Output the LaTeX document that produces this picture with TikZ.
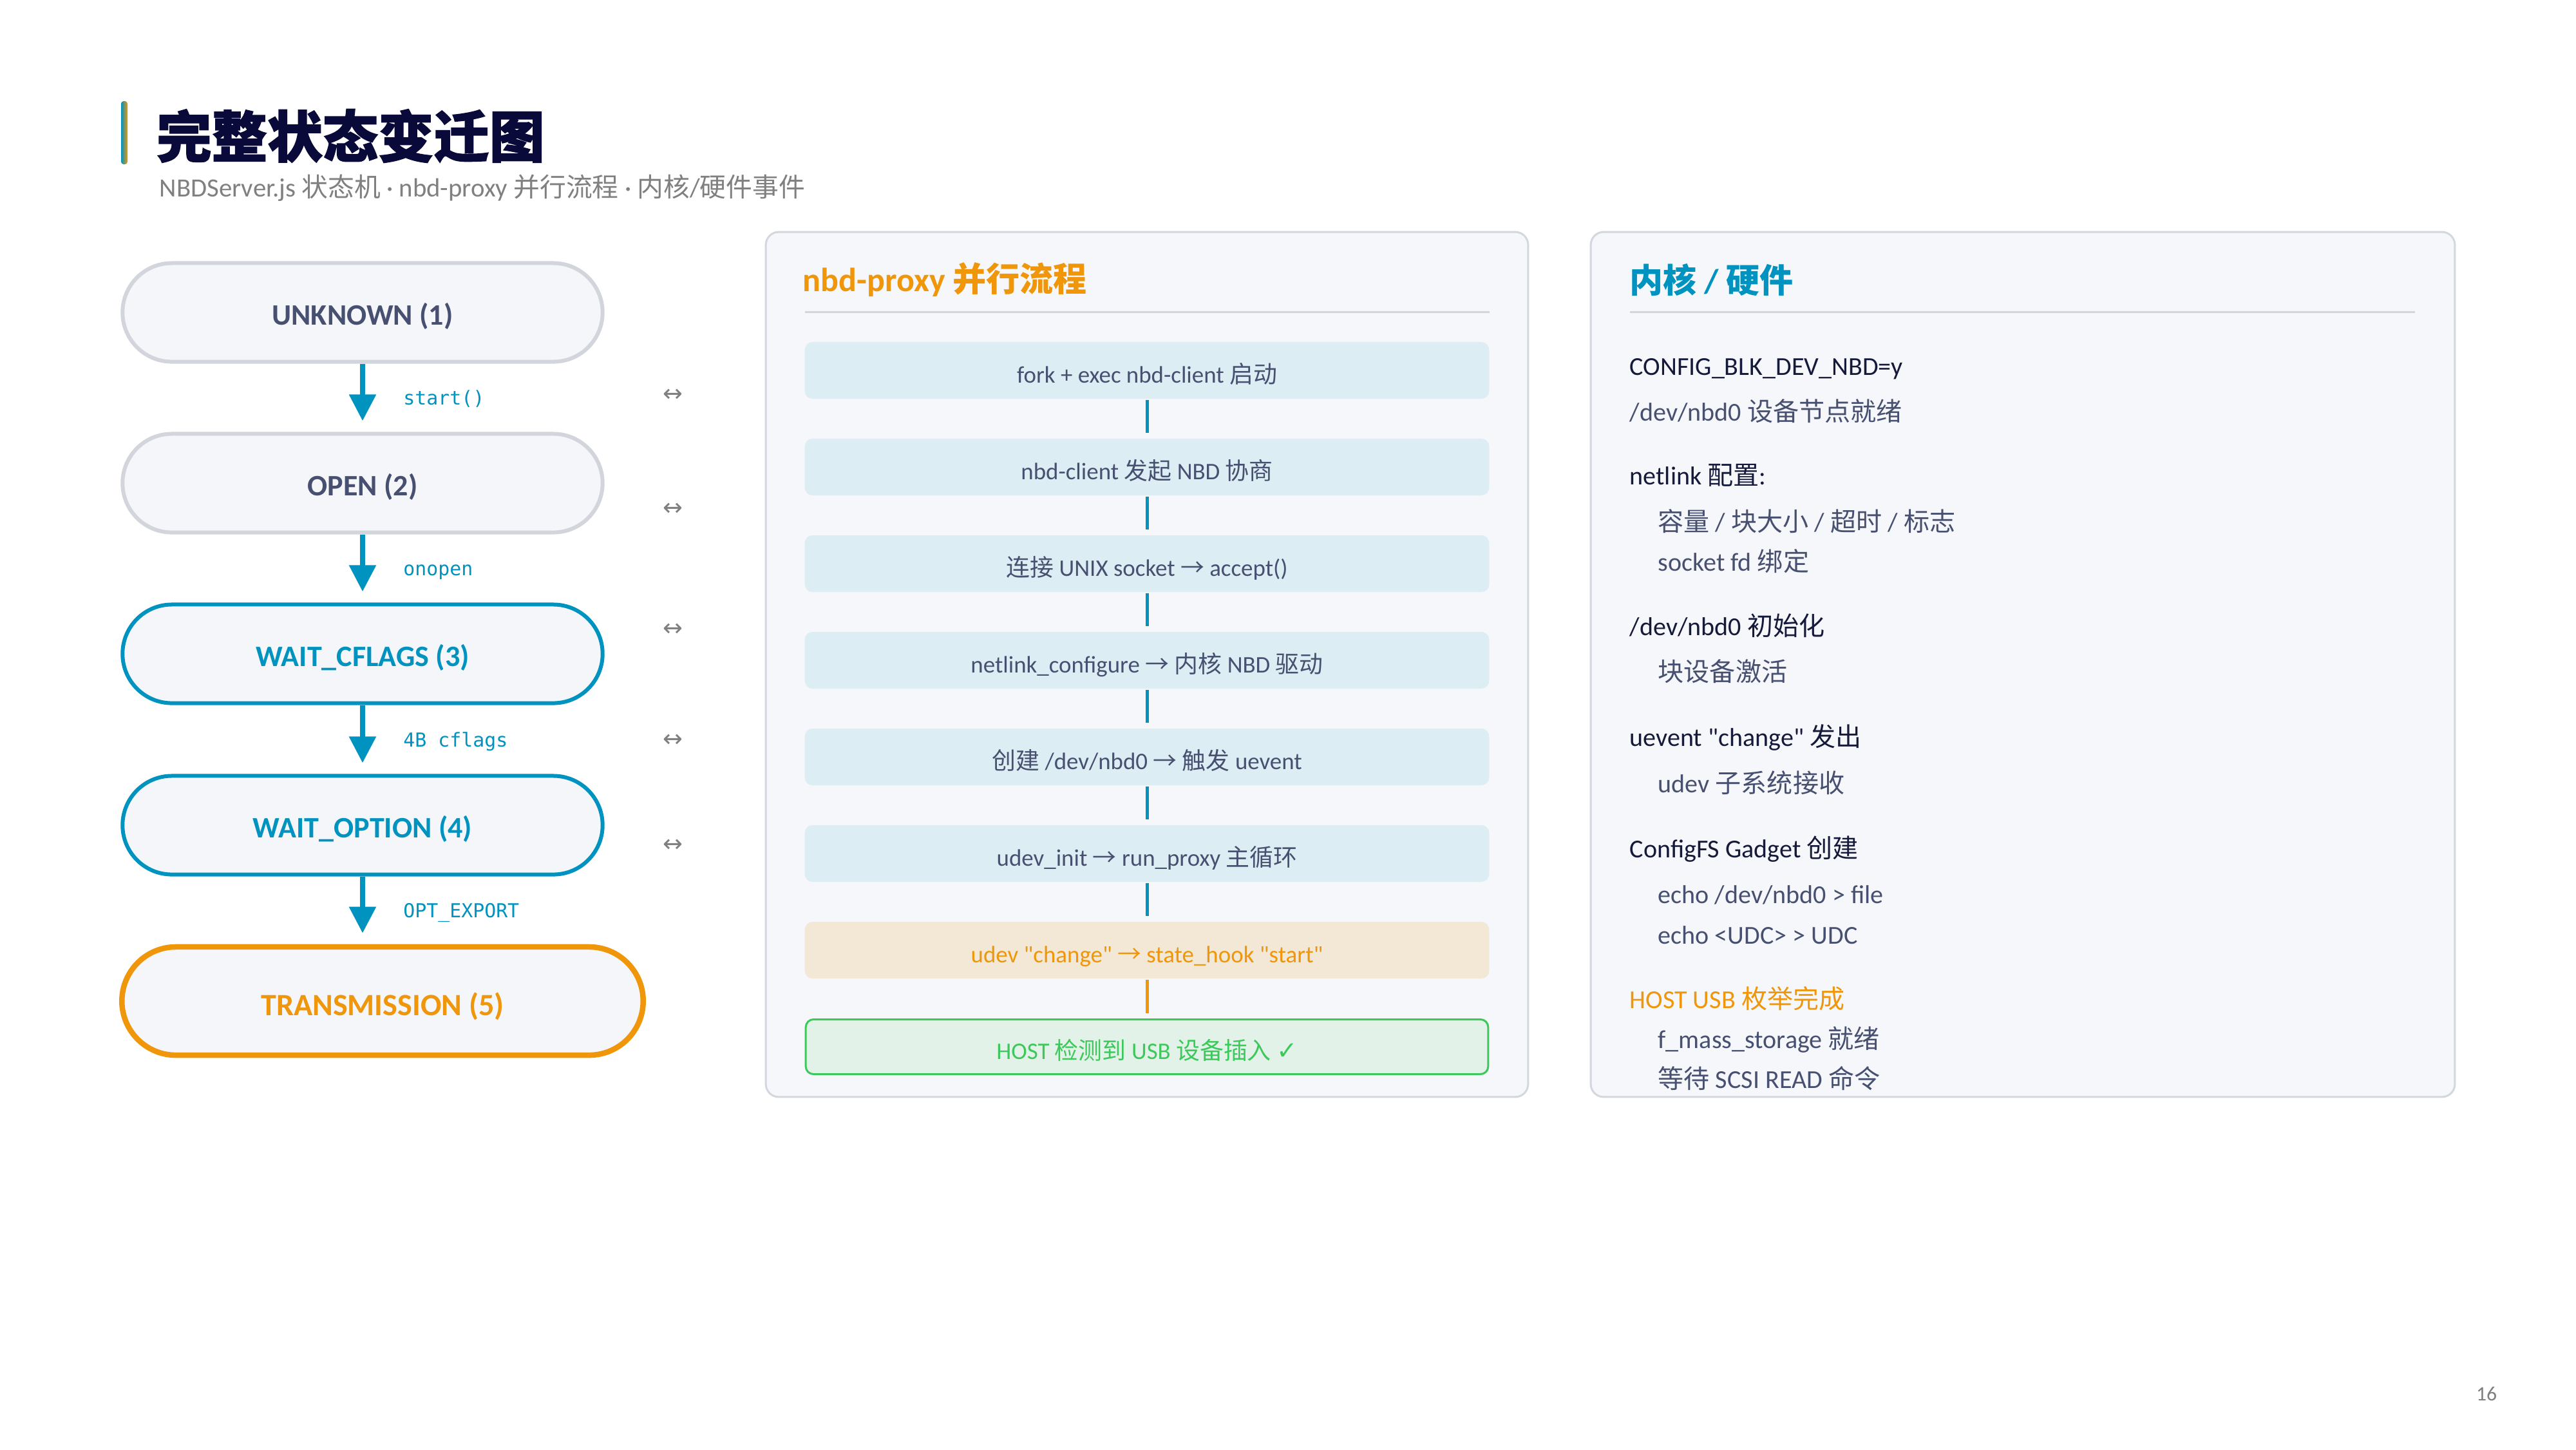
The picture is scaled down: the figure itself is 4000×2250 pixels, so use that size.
\documentclass[tikz,border=0pt]{standalone}
\usepackage{fontspec}
\setmainfont{Carlito}[Ligatures=TeXOff]
\newfontfamily\cjkreg{Noto Sans CJK SC}
\newfontfamily\cjkheavy{Noto Sans CJK SC}[BoldFeatures={FakeBold=1.6}]
\newfontfamily\monof{DejaVu Sans Mono}
\newfontfamily\symf{DejaVu Sans}
\usetikzlibrary{arrows.meta}
\newcommand{\zh}[1]{{\cjkreg #1}}
\newcommand{\ar}{\zh{→}}
\newcommand{\dq}{\char"22\relax}

\definecolor{cblue}{HTML}{0093C0}
\definecolor{corange}{HTML}{F0960A}
\definecolor{cslate}{HTML}{475070}
\definecolor{cdark}{HTML}{161A3A}
\definecolor{ctitle}{HTML}{0A0A3A}
\definecolor{cgreyt}{HTML}{808080}
\definecolor{cpill}{HTML}{F5F6FA}
\definecolor{cpillb}{HTML}{D2D5DC}
\definecolor{cpanel}{HTML}{F5F7FA}
\definecolor{cpanelb}{HTML}{D4D7DE}
\definecolor{cstep}{HTML}{DDEDF4}
\definecolor{cstepo}{HTML}{F3E8D6}
\definecolor{cstepg}{HTML}{E3F2E8}
\definecolor{cgreen}{HTML}{3CC85A}

\newcommand{\fpx}[1]{\fontsize{#1}{#1}\selectfont}

\begin{document}
\begin{tikzpicture}[x=0.01cm,y=-0.01cm,
  pill/.style={rounded corners=0.765cm, minimum width=7.45cm, minimum height=1.53cm,
    inner sep=0pt, line width=0.06cm, fill=cpill, font=\bfseries\fpx{13.1pt},
    text height=0.42cm, text depth=0.04cm},
  greypill/.style={pill, draw=cpillb, text=cslate},
  bluepill/.style={pill, draw=cblue, text=cblue},
  orangepill/.style={pill, draw=corange, text=corange, line width=0.085cm,
    minimum width=8.09cm, minimum height=1.68cm, rounded corners=0.84cm, font=\bfseries\fpx{13.7pt},
    text height=0.48cm, text depth=0.04cm},
  flow/.style={draw=cblue, line width=0.085cm, -{Triangle[length=0.41cm 0, width=0.40cm 0]}, shorten >=0.17cm},
  flowlbl/.style={midway, anchor=base west, xshift=0.59cm, yshift=-0.11cm, inner sep=0pt,
    text=cblue, font=\monof\fpx{8.5pt}},
  dbl/.style={text=cgreyt, font=\symf\fpx{10.5pt}, inner sep=0pt},
  panel/.style={draw=cpanelb, fill=cpanel, line width=0.03cm, rounded corners=0.2cm,
    minimum height=13.42cm, inner sep=0pt},
  ptitle/.style={anchor=west, inner sep=0pt, font=\bfseries\fpx{14.8pt}},
  sepline/.style={draw=cpillb, line width=0.03cm},
  stepbox/.style={fill=cstep, rounded corners=0.12cm, minimum width=10.62cm, minimum height=0.88cm,
    inner sep=0pt, text=cslate, font=\fpx{10.5pt}, text height=0.42cm, text depth=0.03cm},
  link/.style={draw=cblue, line width=0.05cm, shorten >=0.08cm, shorten <=0.01cm},
  item/.style={anchor=base west, inner sep=0pt, font=\fpx{11.4pt}},
  mainitem/.style={item, text=cdark},
  subitem/.style={item, text=cslate},
]
\useasboundingbox[fill=white] (0,0) rectangle (4000,2250);

% ---------- title ----------
\shade[left color=cblue, right color=corange, rounded corners=0.04cm] (188,157) rectangle (198,255);
\node[anchor=west, inner sep=0pt, text=ctitle, font=\bfseries\fpx{24.5pt}] (title) at (242,211) {{\cjkheavy 完整状态变迁图}};
\node[anchor=west, inner sep=0pt, text=cgreyt, font=\fpx{11.6pt}] (subtitle) at (247,292)
  {NBDServer.js \zh{状态机} · nbd-proxy \zh{并行流程} · \zh{内核}/\zh{硬件事件}};

% ---------- state machine ----------
\node[greypill] (s1) at (563,485) {UNKNOWN (1)};
\node[greypill] (s2) at (563,750) {OPEN (2)};
\node[bluepill] (s3) at (563,1015) {WAIT\_CFLAGS (3)};
\node[bluepill] (s4) at (563,1281) {WAIT\_OPTION (4)};
\node[orangepill] (s5) at (594,1554) {TRANSMISSION (5)};

\draw[flow] (s1.south) -- node[flowlbl] {start()} (s2.north);
\draw[flow] (s2.south) -- node[flowlbl] {onopen} (s3.north);
\draw[flow] (s3.south) -- node[flowlbl] {4B cflags} (s4.north);
\draw[flow] (s4.south) -- node[flowlbl] {OPT\_EXPORT} (s4.south |- s5.north);

\node[dbl] (d1) at (1045,614) {↔};
\node[dbl] (d2) at (1045,791) {↔};
\node[dbl] (d3) at (1045,978) {↔};
\node[dbl] (d4) at (1045,1150) {↔};
\node[dbl] (d5) at (1045,1313) {↔};

% ---------- nbd-proxy panel ----------
\node[panel, minimum width=11.83cm] (pm) at (1781,1031.5) {};
\node[ptitle, text=corange] (pmt) at (1246,434) {nbd-proxy \zh{并行流程}};
\draw[sepline] (1250,484) -- (2313,484);

\node[stepbox] (m1) at (1781,575) {fork + exec nbd-client \zh{启动}};
\node[stepbox] (m2) at (1781,725) {nbd-client \zh{发起} NBD \zh{协商}};
\node[stepbox] (m3) at (1781,875) {\zh{连接} UNIX socket \ar{} accept()};
\node[stepbox] (m4) at (1781,1025) {netlink\_configure \ar{} \zh{内核} NBD \zh{驱动}};
\node[stepbox] (m5) at (1781,1175) {\zh{创建} /dev/nbd0 \ar{} \zh{触发} uevent};
\node[stepbox] (m6) at (1781,1325) {udev\_init \ar{} run\_proxy \zh{主循环}};
\node[stepbox, fill=cstepo, text=corange] (m7) at (1781,1475) {udev \dq change\dq{} \ar{} state\_hook \dq start\dq};
\node[stepbox, fill=cstepg, draw=cgreen, line width=0.03cm, minimum width=10.59cm, minimum height=0.85cm,
  text=cgreen] (m8) at (1781,1625) {HOST \zh{检测到} USB \zh{设备插入} {\symf\fpx{11pt}✓}};

\draw[link] (m1.south) -- (m2.north);
\draw[link] (m2.south) -- (m3.north);
\draw[link] (m3.south) -- (m4.north);
\draw[link] (m4.south) -- (m5.north);
\draw[link] (m5.south) -- (m6.north);
\draw[link] (m6.south) -- (m7.north);
\draw[link, draw=corange] (m7.south) -- (m8.north);

% ---------- kernel / hardware panel ----------
\node[panel, minimum width=13.41cm] (pr) at (3141,1031.5) {};
\node[ptitle, text=cblue] (prt) at (2530,434) {\zh{内核} / \zh{硬件}};
\draw[sepline] (2531,484) -- (3750,484);

\node[mainitem] (r1) at (2530,582) {CONFIG\_BLK\_DEV\_NBD=y};
\node[subitem] (r2) at (2530,653) {/dev/nbd0 \zh{设备节点就绪}};
\node[mainitem] (r3) at (2530,752) {netlink \zh{配置}:};
\node[subitem] (r4) at (2574,824) {\zh{容量} / \zh{块大小} / \zh{超时} / \zh{标志}};
\node[subitem] (r5) at (2574,886) {socket fd \zh{绑定}};
\node[mainitem] (r6) at (2530,986) {/dev/nbd0 \zh{初始化}};
\node[subitem] (r7) at (2574,1057) {\zh{块设备激活}};
\node[mainitem] (r8) at (2530,1158) {uevent \dq change\dq{} \zh{发出}};
\node[subitem] (r9) at (2574,1230) {udev \zh{子系统接收}};
\node[mainitem] (r10) at (2530,1331) {ConfigFS Gadget \zh{创建}};
\node[subitem] (r11) at (2574,1402) {echo /dev/nbd0 > file};
\node[subitem] (r12) at (2574,1465) {echo <UDC> > UDC};
\node[item, text=corange] (r13) at (2530,1565) {HOST USB \zh{枚举完成}};
\node[subitem] (r14) at (2574,1627) {f\_mass\_storage \zh{就绪}};
\node[subitem] (r15) at (2574,1689) {\zh{等待} SCSI READ \zh{命令}};

% ---------- page number ----------
\node[text=cgreyt, font=\fpx{9pt}, inner sep=0pt] (pg) at (3861,2164) {16};
\end{tikzpicture}
\end{document}
